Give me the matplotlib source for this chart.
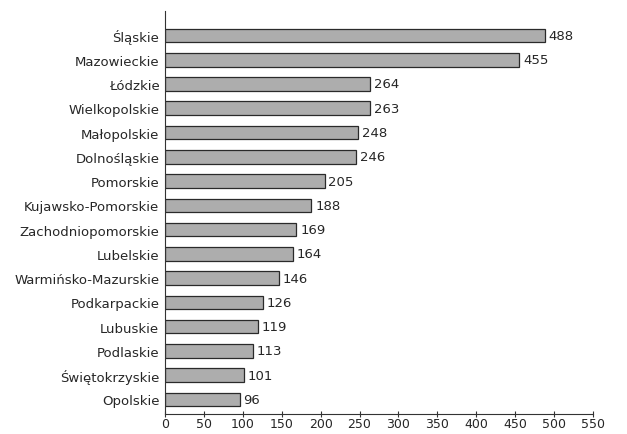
import matplotlib
matplotlib.use('Agg')
import numpy as np
from matplotlib import pyplot as plt

regions = ['Śląskie', 'Mazowieckie', 'Łódzkie', 'Wielkopolskie', 'Małopolskie',
           'Dolnośląskie', 'Pomorskie', 'Kujawsko-Pomorskie', 'Zachodniopomorskie',
           'Lubelskie', 'Warmińsko-Mazurskie', 'Podkarpackie', 'Lubuskie',
           'Podlaskie', 'Świętokrzyskie', 'Opolskie']
values = [488, 455, 264, 263, 248, 246, 205, 188, 169, 164, 146, 126, 119, 113, 101, 96]
x_ticks = [0, 50, 100, 150, 200, 250, 300, 350, 400, 450, 500, 550]

plt.rcParams['font.family'] = ['DejaVu Sans']
fig = plt.figure(figsize=(6.27, 4.35), dpi=100)
ax = fig.add_axes([0.263, 0.046, 0.683, 0.926])

txt_color = '#262626'
y = np.arange(len(regions))
ax.barh(y, values, height=0.56, color='#adadad', edgecolor='#2a2a2a', linewidth=0.9)
for yi, v in zip(y, values):
    ax.text(v + 5, yi, str(v), va='center', ha='left', fontsize=9.5, color=txt_color)

ax.set_yticks(y)
ax.set_yticklabels(regions, fontsize=9.5, color=txt_color)
ax.tick_params(axis='y', length=0, pad=4)
ax.set_ylim(len(regions) - 1 + 0.6, -1.0)

ax.set_xlim(0, 550)
ax.set_xticks(x_ticks)
ax.set_xticklabels([str(t) for t in x_ticks], fontsize=9, color=txt_color)
ax.tick_params(axis='x', direction='inout', length=5, width=0.8, pad=0, color='#333333')

for s in ['top', 'right']:
    ax.spines[s].set_visible(False)
ax.spines['left'].set_color('#333333')
ax.spines['bottom'].set_color('#333333')
ax.spines['left'].set_linewidth(0.8)
ax.spines['bottom'].set_linewidth(0.8)

plt.savefig('out.png', dpi=100)
